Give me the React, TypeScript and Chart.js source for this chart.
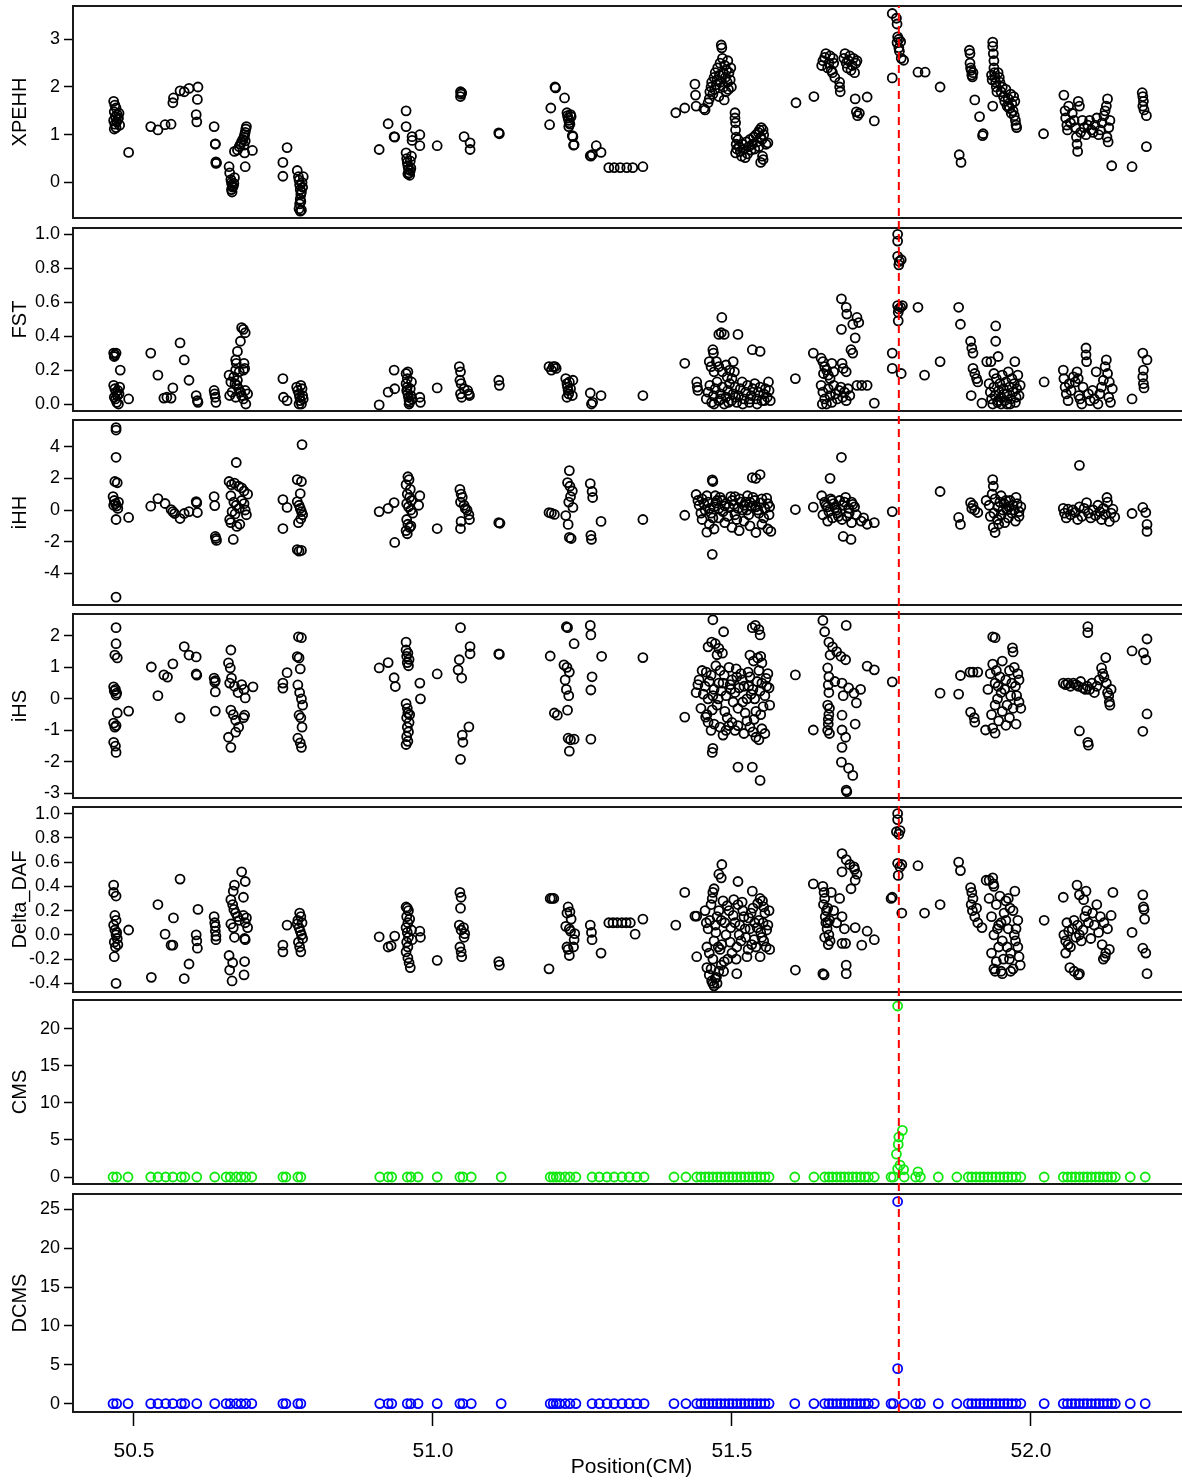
import React, { useEffect, useRef } from 'react';
import { Chart, registerables } from 'chart.js';

Chart.register(...registerables);
Chart.defaults.font.family = "'Liberation Sans', Arial, sans-serif";

type Pt = [number, number];

// ---------------- shared axis data ----------------
const X_MIN = 50.398;
const X_MAX = 52.2659;
const xTickValues = [50.5, 51.0, 51.5, 52.0];
const markerPosition = 51.779;

// ---------------- tick labels ----------------
const xpehhTicks = [0, 1, 2, 3];
const fstTicks = [0, 0.2, 0.4, 0.6, 0.8, 1.0];
const ihhTicks = [-4, -2, 0, 2, 4];
const ihsTicks = [-3, -2, -1, 0, 1, 2];
const dafTicks = [-0.4, -0.2, 0, 0.2, 0.4, 0.6, 0.8, 1.0];
const cmsTicks = [0, 5, 10, 15, 20];
const dcmsTicks = [0, 5, 10, 15, 20, 25];

// ---------------- series ----------------
const xpehhPoints: Pt[] = [
  [50.466,1.70],[50.468,1.62],[50.470,1.56],[50.467,1.48],[50.472,1.42],[50.469,1.38],[50.474,1.35],[50.466,1.30],[50.471,1.27],[50.468,1.22],[50.476,1.20],[50.470,1.15],[50.467,1.12],[50.473,1.32],[50.475,1.45],
  [50.491,0.63],
  [50.528,1.17],[50.540,1.10],[50.552,1.21],[50.562,1.22],[50.565,1.67],[50.566,1.77],[50.577,1.92],[50.584,1.90],[50.592,1.97],[50.604,1.42],[50.605,1.27],[50.606,1.74],[50.607,2.0],
  [50.634,1.17],[50.636,0.81],[50.636,0.80],[50.637,0.43],[50.637,0.40],[50.638,0.41],
  [50.659,0.33],[50.660,0.20],[50.662,0.06],[50.663,0.0],[50.664,-0.05],[50.665,-0.1],[50.663,-0.15],[50.664,-0.2],[50.666,-0.08],[50.668,0.1],[50.667,-0.02],
  [50.668,0.65],[50.673,0.68],[50.676,0.75],[50.678,0.80],[50.680,0.85],[50.682,0.90],[50.684,0.95],[50.685,1.0],[50.686,1.05],[50.687,1.12],[50.688,1.17],[50.686,0.87],[50.684,0.78],[50.686,0.33],[50.685,0.62],[50.698,0.67],
  [50.749,0.42],[50.749,0.13],[50.756,0.73],
  [50.773,0.25],[50.775,0.12],[50.776,0.05],[50.777,-0.05],[50.778,-0.15],[50.779,-0.25],[50.778,-0.35],[50.777,-0.45],[50.776,-0.55],[50.778,-0.6],[50.780,-0.58],[50.781,0.0],[50.782,-0.1],[50.783,0.12],[50.780,-0.2],[50.779,-0.4],
  [50.910,0.69],[50.925,1.23],[50.935,0.96],[50.936,0.95],
  [50.955,1.50],[50.955,1.17],[50.955,0.62],[50.956,0.50],[50.957,0.42],[50.958,0.35],[50.959,0.28],[50.960,0.20],[50.961,0.15],[50.962,0.45],[50.963,0.30],[50.964,0.55],[50.958,0.18],[50.962,0.25],
  [50.965,0.96],[50.965,0.88],[50.978,1.0],[50.978,0.77],[51.007,0.77],
  [51.046,1.90],[51.047,1.85],[51.046,1.80],[51.048,1.88],[51.052,0.96],[51.062,0.83],[51.062,0.69],[51.110,1.04],[51.111,1.02],
  [51.195,1.21],[51.197,1.56],[51.204,2.0],[51.205,1.98],[51.220,1.77],
  [51.224,1.46],[51.225,1.40],[51.226,1.35],[51.227,1.30],[51.228,1.25],[51.229,1.22],[51.227,1.17],[51.230,1.42],[51.231,1.38],
  [51.233,0.98],[51.234,0.96],[51.236,0.79],[51.235,0.78],
  [51.263,0.56],[51.264,0.55],[51.266,0.58],[51.273,0.77],[51.281,0.63],
  [51.294,0.31],[51.303,0.31],[51.313,0.31],[51.324,0.31],[51.334,0.31],[51.351,0.33],
  [51.406,1.46],[51.421,1.56],[51.438,2.06],[51.439,1.83],[51.440,1.60],[51.455,1.52],[51.453,1.55],
  [51.460,1.67],[51.462,1.75],[51.463,1.9],[51.465,2.0],[51.466,2.1],[51.468,1.85],[51.470,2.2],[51.471,1.95],[51.472,2.3],[51.474,2.05],[51.475,2.15],[51.476,2.4],[51.478,1.8],[51.479,2.25],[51.480,2.5],[51.481,2.1],[51.482,2.88],[51.483,2.82],[51.484,2.6],[51.485,2.3],[51.486,2.0],[51.487,1.73],[51.488,2.45],[51.489,2.2],[51.490,1.9],[51.491,2.35],[51.492,2.1],[51.493,2.55],[51.494,1.95],[51.495,2.3],[51.497,2.15],[51.498,2.4],[51.499,2.0],
  [51.505,1.46],[51.505,1.35],[51.506,1.25],[51.506,1.1],[51.507,0.95],[51.507,0.8],[51.508,0.7],[51.506,0.62],[51.510,0.9],[51.512,0.75],[51.514,0.65],[51.516,0.55],[51.518,0.8],[51.520,0.7],[51.522,0.52],[51.524,0.85],[51.526,0.6],[51.528,0.75],[51.530,0.9],[51.532,0.68],[51.534,0.8],[51.536,0.95],[51.538,0.7],[51.540,1.0],[51.542,0.85],[51.544,1.05],[51.545,0.75],[51.546,1.1],[51.548,0.95],[51.549,1.15],[51.550,0.9],[51.552,1.1],[51.553,1.0],[51.560,0.83],[51.552,0.48],[51.548,0.42],[51.551,0.55],[51.557,0.8],
  [51.607,1.67],[51.637,1.80],
  [51.650,2.45],[51.652,2.55],[51.655,2.62],[51.657,2.7],[51.660,2.4],[51.662,2.5],[51.664,2.65],[51.666,2.35],[51.668,2.3],[51.670,2.5],[51.672,2.2],[51.669,2.6],
  [51.680,2.1],[51.680,2.0],[51.681,1.9],
  [51.687,2.6],[51.689,2.7],[51.691,2.5],[51.693,2.4],[51.695,2.55],[51.697,2.65],[51.699,2.35],[51.701,2.45],[51.703,2.6],[51.705,2.3],[51.707,2.5],[51.709,2.55],
  [51.706,1.75],[51.708,1.48],[51.710,1.40],[51.713,1.45],[51.726,1.79],[51.738,1.29],
  [51.768,3.54],[51.768,2.19],[51.775,3.44],[51.776,3.32],[51.777,3.05],[51.776,2.93],[51.779,2.82],[51.780,2.75],[51.782,2.95],[51.783,2.6],[51.787,2.56],[51.779,3.0],
  [51.811,2.31],[51.823,2.31],[51.848,2.0],
  [51.880,0.58],[51.883,0.42],
  [51.897,2.77],[51.898,2.7],[51.898,2.5],[51.900,2.35],[51.901,2.25],[51.902,2.21],[51.899,2.4],[51.903,2.3],
  [51.906,1.73],[51.914,1.38],[51.920,1.02],[51.919,0.98],
  [51.936,2.94],[51.936,2.85],[51.937,2.7],[51.938,2.55],[51.938,2.4],[51.939,2.3],[51.940,2.2],[51.941,2.1],[51.942,2.0],[51.943,1.9],[51.936,1.6],[51.934,2.25],[51.935,2.15],[51.945,2.3],[51.947,2.2],
  [51.948,2.1],[51.950,1.9],[51.952,2.0],[51.954,1.8],[51.956,1.7],[51.958,1.95],[51.960,1.6],[51.962,1.75],[51.964,1.55],[51.966,1.85],[51.968,1.65],[51.970,1.5],[51.972,1.4],[51.974,1.3],[51.975,1.2],[51.976,1.15],[51.973,1.7],[51.971,1.8],[51.967,1.45],[51.963,1.6],
  [52.021,1.02],
  [52.055,1.83],[52.057,1.5],[52.058,1.35],[52.060,1.2],[52.061,1.1],[52.063,1.6],[52.066,1.25],[52.069,1.45],[52.072,1.3],[52.074,1.15],[52.076,0.95],[52.077,0.8],[52.078,0.65],[52.079,1.7],[52.081,1.6],[52.083,1.05],[52.086,1.3],[52.089,1.15],[52.092,1.0],[52.095,1.2],[52.098,1.3],[52.101,1.1],[52.104,1.05],[52.107,1.2],[52.110,1.35],[52.113,1.0],[52.116,1.1],[52.119,1.25],[52.122,1.4],[52.124,1.5],[52.126,1.6],[52.128,1.75],[52.127,0.95],[52.129,0.85],[52.130,1.15],[52.132,1.3],[52.135,0.35],
  [52.169,0.33],
  [52.186,1.88],[52.187,1.8],[52.188,1.7],[52.187,1.6],[52.189,1.52],[52.193,1.4],[52.193,0.75],
];

const fstPoints: Pt[] = [
  [50.466,0.30],[50.468,0.29],[50.470,0.30],[50.467,0.28],
  [50.466,0.11],[50.468,0.09],[50.470,0.07],[50.472,0.05],[50.467,0.04],[50.469,0.03],[50.473,0.08],[50.475,0.06],[50.471,0.01],[50.476,0.10],
  [50.477,0.20],[50.474,0.0],[50.491,0.03],
  [50.528,0.30],[50.540,0.17],[50.550,0.035],[50.555,0.04],[50.562,0.035],[50.565,0.095],[50.577,0.36],[50.584,0.26],[50.592,0.14],[50.604,0.05],[50.606,0.02],[50.607,0.01],
  [50.634,0.08],[50.635,0.06],[50.636,0.04],[50.637,0.01],
  [50.680,0.45],[50.683,0.44],[50.686,0.42],[50.678,0.37],[50.673,0.31],[50.670,0.26],[50.671,0.24],[50.684,0.24],[50.685,0.21],[50.683,0.20],[50.659,0.17],[50.662,0.13],[50.667,0.16],[50.669,0.12],[50.672,0.11],[50.675,0.09],[50.678,0.07],[50.680,0.05],[50.683,0.03],[50.686,0.08],[50.690,0.06],[50.660,0.05],[50.664,0.07],[50.670,0.04],[50.687,0.0],[50.673,0.14],[50.676,0.19],[50.670,0.20],
  [50.749,0.15],[50.750,0.04],[50.756,0.02],
  [50.772,0.10],[50.774,0.08],[50.776,0.06],[50.777,0.04],[50.778,0.02],[50.780,0.0],[50.782,0.05],[50.781,0.09],[50.783,0.03],[50.779,0.11],[50.776,0.0],
  [50.910,-0.005],[50.925,0.07],[50.936,0.09],[50.935,0.20],
  [50.955,0.18],[50.958,0.19],[50.957,0.15],[50.955,0.12],[50.957,0.10],[50.956,0.08],[50.958,0.06],[50.959,0.04],[50.960,0.02],[50.961,0.01],[50.962,0.09],[50.963,0.05],[50.964,0.13],[50.965,0.03],[50.960,0.0],
  [50.978,0.04],[50.979,0.01],[51.007,0.095],
  [51.044,0.22],[51.046,0.19],[51.045,0.14],[51.047,0.12],[51.046,0.06],[51.048,0.04],[51.052,0.09],[51.058,0.08],[51.060,0.06],[51.061,0.05],
  [51.110,0.14],[51.111,0.11],
  [51.194,0.22],[51.198,0.20],[51.201,0.22],[51.204,0.22],[51.206,0.21],
  [51.222,0.15],[51.224,0.12],[51.225,0.10],[51.226,0.08],[51.227,0.06],[51.224,0.04],[51.228,0.13],[51.230,0.09],[51.233,0.05],[51.234,0.14],
  [51.263,0.065],[51.265,0.0],[51.267,0.01],[51.281,0.05],
  [51.351,0.05],
  [51.421,0.24],[51.441,0.13],[51.442,0.10],[51.443,0.08],
  [51.483,0.51],[51.478,0.41],[51.482,0.42],[51.487,0.41],[51.510,0.41],[51.468,0.32],[51.469,0.30],[51.534,0.32],[51.547,0.31],
  [51.462,0.25],[51.465,0.22],[51.470,0.19],[51.474,0.25],[51.478,0.22],[51.484,0.19],[51.490,0.23],[51.496,0.20],[51.502,0.25],[51.504,0.19],[51.500,0.15],[51.492,0.16],
  [51.457,0.03],[51.460,0.07],[51.463,0.11],[51.466,0.01],[51.469,0.05],[51.472,0.09],[51.475,0.13],[51.478,0.02],[51.481,0.06],[51.484,0.10],[51.487,0.0],[51.490,0.04],[51.493,0.08],[51.496,0.12],[51.499,0.02],[51.502,0.06],[51.505,0.10],[51.508,0.01],[51.511,0.05],[51.514,0.09],[51.517,0.13],[51.520,0.03],[51.523,0.07],[51.526,0.11],[51.529,0.01],[51.532,0.05],[51.535,0.09],[51.538,0.12],[51.541,0.03],[51.544,0.07],[51.547,0.10],[51.550,0.02],[51.553,0.06],[51.556,0.09],[51.559,0.04],[51.562,0.08],[51.564,0.02],[51.561,0.13],
  [51.470,0.0],[51.482,0.03],[51.494,0.01],[51.506,0.04],[51.518,0.0],[51.530,0.03],[51.542,0.0],[51.554,0.02],
  [51.606,0.15],[51.636,0.30],
  [51.649,0.27],[51.652,0.25],[51.655,0.22],[51.658,0.20],[51.661,0.17],[51.664,0.15],[51.667,0.24],[51.670,0.19],[51.653,0.18],
  [51.649,0.11],[51.652,0.07],[51.655,0.03],[51.658,0.0],[51.661,0.09],[51.664,0.05],[51.667,0.01],[51.670,0.11],[51.673,0.06],[51.676,0.03],[51.679,0.08],[51.682,0.10],[51.685,0.04],[51.688,0.07],[51.691,0.02],[51.694,0.09],[51.697,0.05],[51.651,0.0],
  [51.683,0.62],[51.691,0.57],[51.692,0.53],[51.709,0.51],[51.712,0.48],[51.702,0.47],[51.683,0.44],[51.706,0.39],[51.699,0.32],[51.702,0.30],[51.684,0.24],[51.686,0.21],[51.691,0.19],[51.709,0.11],[51.717,0.11],[51.726,0.11],[51.738,0.005],
  [51.768,0.30],[51.768,0.21],
  [51.777,1.0],[51.777,0.96],[51.777,0.87],[51.780,0.84],[51.783,0.85],[51.779,0.82],
  [51.777,0.58],[51.779,0.56],[51.782,0.57],[51.785,0.58],[51.778,0.54],[51.778,0.49],[51.783,0.18],
  [51.811,0.57],[51.822,0.17],[51.848,0.25],
  [51.879,0.57],[51.882,0.47],
  [51.899,0.37],[51.901,0.33],[51.903,0.30],[51.900,0.05],[51.903,0.21],[51.906,0.18],[51.909,0.15],[51.911,0.13],[51.918,0.005],
  [51.926,0.25],[51.933,0.25],[51.941,0.46],[51.941,0.37],[51.945,0.28],[51.973,0.25],
  [51.930,0.12],[51.932,0.07],[51.934,0.03],[51.936,0.0],[51.938,0.10],[51.940,0.05],[51.942,0.15],[51.944,0.01],[51.946,0.08],[51.948,0.12],[51.950,0.04],[51.952,0.17],[51.954,0.09],[51.956,0.02],[51.958,0.13],[51.960,0.06],[51.962,0.19],[51.964,0.10],[51.966,0.03],[51.968,0.15],[51.970,0.07],[51.972,0.12],[51.974,0.01],[51.976,0.09],[51.978,0.17],[51.980,0.05],[51.982,0.11],[51.938,0.18],[51.950,0.0],[51.960,0.0],
  [51.945,0.02],[51.955,0.06],[51.965,0.0],[51.975,0.04],
  [52.022,0.13],
  [52.054,0.20],[52.055,0.15],[52.057,0.10],[52.059,0.06],[52.062,0.02],[52.064,0.12],[52.067,0.08],[52.071,0.16],[52.074,0.13],[52.077,0.19],[52.079,0.15],[52.080,0.05],[52.082,0.03],[52.085,0.0],[52.087,0.10],[52.092,0.33],[52.092,0.29],[52.093,0.25],[52.096,0.06],[52.099,0.02],[52.103,0.08],[52.106,0.03],[52.109,0.19],[52.112,0.00],[52.115,0.06],[52.118,0.10],[52.121,0.14],[52.124,0.22],[52.126,0.26],[52.128,0.18],[52.130,0.04],[52.133,0.01],[52.136,0.09],[52.131,0.13],
  [52.169,0.03],
  [52.187,0.30],[52.188,0.20],[52.187,0.16],[52.188,0.12],[52.189,0.095],[52.194,0.26],
];

const ihhPoints: Pt[] = [
  [50.470,5.2],[50.470,5.05],[50.470,3.33],[50.468,1.8],[50.472,1.72],[50.465,0.85],[50.467,0.6],[50.469,0.4],[50.471,0.25],[50.473,0.1],[50.466,0.3],[50.474,0.5],[50.470,-0.6],[50.491,-0.47],[50.470,-5.5],
  [50.528,0.24],[50.540,0.72],[50.552,0.41],[50.562,0.03],[50.565,-0.1],[50.568,-0.22],[50.577,-0.54],[50.584,-0.22],[50.592,-0.1],[50.604,0.53],[50.605,0.45],[50.606,-0.16],
  [50.634,0.85],[50.635,0.28],[50.636,-1.67],[50.637,-1.8],[50.638,-1.92],
  [50.671,3.0],[50.659,1.8],[50.663,1.6],[50.668,1.7],[50.675,1.5],[50.680,1.4],[50.684,1.2],[50.690,1.0],[50.662,0.9],[50.667,0.5],[50.671,0.3],[50.676,0.1],[50.680,0.6],[50.684,0.4],[50.686,0.0],[50.688,-0.3],[50.664,-0.1],[50.669,-0.25],[50.660,-0.6],[50.662,-0.8],[50.672,-1.04],[50.677,-0.9],[50.666,-1.86],
  [50.749,0.66],[50.749,-1.17],[50.756,0.16],
  [50.781,4.13],[50.773,1.92],[50.780,1.8],[50.778,1.04],[50.773,0.53],[50.776,0.3],[50.778,0.1],[50.780,-0.1],[50.782,-0.3],[50.779,-0.55],[50.775,-0.8],[50.773,-2.5],[50.776,-2.6],[50.780,-2.55],
  [50.910,-0.1],[50.925,0.1],[50.935,0.47],[50.936,-2.05],
  [50.958,2.1],[50.960,1.92],[50.955,1.6],[50.962,1.3],[50.957,1.0],[50.961,0.8],[50.964,0.6],[50.956,0.4],[50.959,0.2],[50.963,0.0],[50.966,-0.2],[50.956,-0.6],[50.958,-0.9],[50.961,-1.1],[50.955,-1.3],[50.957,-1.5],[50.963,-1.0],[50.978,0.9],[50.976,0.3],
  [51.007,-1.17],
  [51.045,1.3],[51.047,1.0],[51.049,0.8],[51.046,0.5],[51.052,0.3],[51.054,0.1],[51.057,0.0],[51.060,-0.3],[51.061,-0.6],[51.047,-0.72],[51.046,-1.17],
  [51.110,-0.8],[51.112,-0.84],
  [51.194,-0.16],[51.198,-0.2],[51.203,-0.28],
  [51.228,2.49],[51.225,1.73],[51.229,1.5],[51.233,1.2],[51.230,0.85],[51.227,0.5],[51.234,0.16],[51.222,-0.35],[51.226,-0.91],[51.228,-1.73],[51.231,-1.8],
  [51.263,1.67],[51.266,1.17],[51.267,0.79],[51.264,-1.6],[51.265,-1.86],[51.281,-0.72],
  [51.351,-0.6],[51.421,-0.33],
  [51.467,1.9],[51.468,1.8],[51.534,2.05],[51.540,2.0],[51.547,2.24],[51.467,-2.8],
  [51.440,0.98],[51.450,0.7],[51.460,0.5],[51.470,0.2],[51.480,0.8],[51.490,0.4],[51.500,0.6],[51.510,0.1],[51.520,0.3],[51.530,0.5],[51.540,0.2],[51.550,0.7],[51.560,0.4],[51.445,0.3],[51.455,0.0],[51.465,-0.2],[51.475,0.6],[51.485,-0.1],[51.495,0.2],[51.505,-0.3],[51.515,0.5],[51.525,0.0],[51.535,0.8],[51.545,-0.2],[51.555,0.1],[51.562,-0.3],[51.450,-0.6],[51.462,-0.9],[51.470,-1.2],[51.478,-0.5],[51.488,-0.8],[51.500,-1.1],[51.512,-1.3],[51.520,-0.7],[51.530,-1.0],[51.540,-1.42],[51.550,-0.9],[51.560,-1.2],[51.565,-1.35],[51.458,-1.4],[51.472,0.9],[51.505,0.85],[51.526,0.9],
  [51.443,0.6],[51.448,-0.2],[51.453,0.4],[51.458,0.9],[51.463,0.1],[51.468,-0.5],[51.473,0.45],[51.478,0.1],[51.483,0.6],[51.488,0.25],[51.493,-0.4],[51.498,0.85],[51.503,0.35],[51.508,-0.6],[51.513,0.7],[51.518,0.0],[51.523,0.5],[51.528,-0.3],[51.533,0.25],[51.538,0.6],[51.543,0.0],[51.548,0.45],[51.553,-0.5],[51.558,0.75],[51.563,0.2],
  [51.606,0.03],[51.636,0.18],
  [51.683,3.33],[51.664,2.0],[51.650,0.9],[51.655,0.5],[51.660,0.2],[51.665,0.7],[51.670,0.4],[51.675,0.0],[51.680,0.6],[51.685,0.3],[51.690,0.8],[51.695,0.1],[51.700,0.5],[51.705,0.2],[51.652,-0.3],[51.660,-0.7],[51.668,-0.5],[51.676,-0.2],[51.684,-0.6],[51.692,-0.4],[51.700,-0.8],[51.708,-0.3],[51.716,-0.7],[51.726,-0.9],[51.738,-0.8],[51.686,-1.67],[51.699,-1.86],[51.720,-0.5],
  [51.657,0.3],[51.662,-0.1],[51.667,0.6],[51.672,0.15],[51.678,-0.4],[51.688,0.5],[51.696,-0.2],[51.702,0.35],
  [51.768,-0.1],
  [51.848,1.17],[51.879,-0.47],[51.882,-0.91],
  [51.899,0.47],[51.903,0.3],[51.906,0.0],[51.911,-0.16],[51.901,0.1],
  [51.936,1.92],[51.937,1.5],[51.925,0.6],[51.930,0.3],[51.935,1.0],[51.940,0.7],[51.945,0.2],[51.950,0.9],[51.955,0.4],[51.960,0.0],[51.965,0.6],[51.970,0.3],[51.975,0.8],[51.980,-0.1],[51.932,-0.4],[51.938,-0.2],[51.944,-0.6],[51.950,-0.3],[51.956,-0.8],[51.962,-0.5],[51.968,-0.2],[51.974,-0.7],[51.980,-0.4],[51.983,0.2],[51.937,-1.1],[51.940,-1.42],[51.946,-0.9],
  [51.948,0.5],[51.953,0.0],[51.958,0.6],[51.963,0.2],[51.972,0.0],[51.977,0.4],
  [52.081,2.82],
  [52.054,0.1],[52.056,-0.2],[52.059,-0.5],[52.062,0.05],[52.066,-0.3],[52.070,0.0],[52.074,-0.15],[52.078,-0.6],[52.081,0.2],[52.085,-0.4],[52.089,0.1],[52.093,0.47],[52.096,-0.2],[52.100,-0.5],[52.104,0.0],[52.108,-0.35],[52.112,0.3],[52.115,-0.1],[52.118,-0.6],[52.121,0.1],[52.124,-0.3],[52.127,0.79],[52.128,0.5],[52.131,-0.72],[52.134,-0.2],[52.137,0.05],[52.140,-0.45],
  [52.169,-0.22],[52.187,0.16],[52.192,-0.16],[52.194,-0.91],[52.194,-1.35],
];

const ihsPoints: Pt[] = [
  [50.470,2.26],[50.470,1.75],[50.468,1.39],[50.472,1.30],[50.466,0.38],[50.469,0.30],[50.467,0.25],[50.471,0.18],[50.470,0.12],[50.472,-0.45],[50.466,-0.77],[50.470,-0.85],[50.468,-0.9],[50.466,-1.38],[50.469,-1.5],[50.470,-1.7],[50.491,-0.39],
  [50.529,1.01],[50.540,0.1],[50.550,0.76],[50.556,0.69],[50.565,1.11],[50.577,-0.6],[50.584,1.66],[50.592,1.39],[50.604,1.33],[50.604,0.79],[50.605,0.75],
  [50.634,0.66],[50.635,0.53],[50.636,0.58],[50.636,0.22],[50.636,-0.39],
  [50.662,1.55],[50.658,1.14],[50.661,0.98],[50.663,0.66],[50.660,0.5],[50.668,0.4],[50.674,0.2],[50.680,0.45],[50.684,0.3],[50.686,0.03],[50.662,-0.36],[50.666,-0.5],[50.670,-0.68],[50.685,-0.52],[50.683,-0.6],[50.675,-0.9],[50.658,-1.22],[50.662,-1.54],[50.670,-1.06],[50.699,0.38],
  [50.749,0.5],[50.749,0.34],[50.756,0.83],
  [50.775,1.97],[50.780,1.94],[50.773,1.34],[50.776,1.30],[50.778,0.95],[50.774,0.44],[50.777,0.2],[50.780,0.0],[50.782,-0.2],[50.776,-0.52],[50.779,-0.6],[50.781,-0.9],[50.774,-1.25],[50.778,-1.4],[50.780,-1.54],
  [50.910,0.98],[50.925,1.15],[50.935,0.67],[50.937,0.39],
  [50.955,1.8],[50.955,1.55],[50.958,1.45],[50.956,1.35],[50.960,1.25],[50.957,1.15],[50.959,1.05],[50.978,0.5],[50.979,0.0],[50.955,-0.15],[50.957,-0.3],[50.958,-0.45],[50.956,-0.6],[50.960,-0.75],[50.957,-0.9],[50.959,-1.05],[50.956,-1.2],[50.958,-1.35],[50.961,-0.5],[50.955,-1.45],
  [51.007,0.79],
  [51.046,2.26],[51.062,1.66],[51.062,1.43],[51.044,1.24],[51.042,0.92],[51.048,0.66],[51.060,-0.89],[51.049,-1.15],[51.050,-1.38],[51.046,-1.92],
  [51.110,1.43],[51.111,1.41],
  [51.196,1.36],[51.223,2.29],[51.225,2.26],[51.236,1.75],[51.219,1.08],[51.224,1.0],[51.228,0.85],[51.221,0.6],[51.223,0.3],[51.227,0.1],[51.203,-0.45],[51.208,-0.52],[51.225,-0.36],[51.226,-1.25],[51.230,-1.3],[51.236,-1.28],[51.228,-1.66],[51.263,2.33],[51.264,2.03],[51.266,0.7],[51.264,0.28],[51.264,-1.28],[51.282,1.35],
  [51.351,1.31],[51.421,-0.58],
  [51.468,2.51],[51.486,2.13],[51.534,2.26],[51.539,2.33],[51.545,2.2],[51.547,2.03],
  [51.460,1.65],[51.466,1.8],[51.472,1.75],[51.478,1.6],[51.484,1.45],[51.475,1.4],[51.530,1.39],[51.536,1.2],[51.543,1.3],[51.550,1.14],[51.548,1.35],
  [51.440,0.2],[51.445,0.6],[51.450,0.9],[51.455,0.4],[51.460,0.0],[51.465,0.75],[51.470,0.3],[51.475,-0.2],[51.480,0.9],[51.485,0.5],[51.490,0.1],[51.495,1.0],[51.500,0.6],[51.505,0.2],[51.510,-0.3],[51.515,0.8],[51.520,0.4],[51.525,0.0],[51.530,0.7],[51.535,0.3],[51.540,-0.4],[51.545,0.9],[51.550,0.5],[51.555,0.1],[51.560,0.8],[51.563,-0.2],[51.448,-0.3],[51.458,-0.5],[51.468,0.1],[51.478,0.5],[51.488,-0.4],[51.498,0.3],[51.508,0.7],[51.518,-0.1],[51.528,0.4],[51.538,0.0],[51.548,-0.5],[51.558,0.4],
  [51.460,-0.74],[51.470,-0.8],[51.480,-0.9],[51.490,-1.0],[51.500,-0.75],[51.510,-0.85],[51.520,-1.1],[51.530,-0.9],[51.540,-1.22],[51.550,-0.95],[51.555,-1.1],[51.545,-1.3],
  [51.443,0.45],[51.452,0.15],[51.457,0.85],[51.462,0.55],[51.467,-0.35],[51.473,1.05],[51.477,0.0],[51.482,0.25],[51.487,0.75],[51.492,-0.6],[51.497,0.45],[51.502,-0.1],[51.507,0.95],[51.512,0.35],[51.517,0.6],[51.522,-0.45],[51.527,0.85],[51.532,0.15],[51.537,-0.65],[51.542,0.55],[51.547,0.25],[51.552,-0.25],[51.557,0.65],[51.562,0.35],[51.465,-1.0],[51.485,-1.15],[51.505,-1.0],[51.525,-0.7],[51.535,-1.05],[51.495,-0.85],
  [51.468,-1.57],[51.467,-1.7],[51.510,-2.17],[51.534,-2.17],[51.547,-2.59],[51.456,-0.58],
  [51.606,0.76],[51.636,-0.99],
  [51.652,2.49],[51.691,2.33],[51.655,2.13],[51.662,1.8],[51.668,1.65],[51.675,1.5],[51.682,1.35],[51.690,1.24],[51.664,1.39],[51.726,1.04],[51.738,0.92],[51.660,0.98],[51.662,0.7],[51.661,0.44],[51.684,0.5],[51.695,0.35],[51.704,0.18],[51.715,0.3],[51.708,-0.13],[51.660,-0.2],[51.662,-0.5],[51.661,-0.8],[51.660,-1.0],[51.663,-1.1],[51.684,-0.52],[51.706,-0.8],[51.684,-0.99],[51.690,-1.22],[51.684,-1.54],[51.683,-2.01],[51.695,-2.2],[51.702,-2.43],[51.691,-2.9],[51.692,-2.95],
  [51.662,0.2],[51.663,-0.3],[51.661,-0.65],[51.686,0.1],[51.672,0.55],
  [51.768,0.54],
  [51.848,0.18],[51.879,0.15],[51.882,0.74],
  [51.898,0.85],[51.903,0.85],[51.911,0.85],[51.899,-0.42],[51.905,-0.6],[51.906,-0.74],[51.924,-0.99],
  [51.936,1.97],[51.940,1.94],[51.969,1.62],[51.970,1.49],
  [51.928,0.3],[51.932,0.8],[51.936,1.1],[51.940,0.5],[51.944,0.0],[51.948,0.7],[51.952,1.2],[51.956,0.3],[51.960,-0.2],[51.964,0.9],[51.968,0.5],[51.972,1.0],[51.976,0.1],[51.980,0.6],[51.983,-0.3],[51.934,-0.5],[51.940,-0.2],[51.946,-0.7],[51.952,-0.4],[51.958,-0.84],[51.964,-0.6],[51.970,-0.3],[51.975,-0.8],[51.980,-0.1],[51.936,-0.93],[51.940,-1.09],[51.945,0.4],
  [51.942,0.9],[51.950,0.2],[51.958,0.6],[51.966,0.1],[51.974,0.4],[51.978,0.8],
  [52.054,0.5],[52.058,0.45],[52.062,0.5],[52.066,0.4],[52.071,0.5],[52.075,0.45],[52.079,0.4],[52.083,0.55],[52.087,0.35],[52.091,0.3],[52.095,2.29],[52.095,2.1],[52.094,0.4],[52.098,0.3],[52.102,0.5],[52.106,0.2],[52.110,0.4],[52.114,0.6],[52.118,0.98],[52.120,0.8],[52.122,0.69],[52.125,1.31],[52.126,0.5],[52.128,0.2],[52.130,0.1],[52.131,-0.1],[52.132,-0.2],[52.134,0.3],[52.081,-1.02],[52.095,-1.38],[52.096,-1.47],
  [52.169,1.52],[52.194,1.9],[52.188,1.46],[52.192,1.24],[52.194,-0.48],[52.187,-1.03],
];

const dafPoints: Pt[] = [
  [50.466,0.41],[50.466,0.35],[50.470,0.32],[50.468,0.16],[50.470,0.12],[50.466,0.08],[50.468,0.04],[50.470,0.0],[50.472,-0.03],[50.467,-0.06],[50.469,-0.1],[50.471,0.02],[50.473,-0.08],[50.467,-0.18],[50.470,-0.4],[50.491,0.04],
  [50.529,-0.35],[50.540,0.25],[50.552,0.006],[50.562,-0.085],[50.565,-0.085],[50.566,0.14],[50.577,0.46],[50.584,-0.36],[50.592,-0.24],[50.604,0.0],[50.605,-0.05],[50.606,-0.11],[50.607,0.21],
  [50.634,0.15],[50.635,0.10],[50.636,0.07],[50.636,0.03],[50.637,-0.01],[50.637,-0.04],
  [50.680,0.52],[50.686,0.44],[50.668,0.41],[50.666,0.36],[50.683,0.31],[50.662,0.29],[50.665,0.25],[50.667,0.21],[50.670,0.18],[50.673,0.15],[50.676,0.12],[50.662,0.09],[50.666,0.06],[50.683,0.16],[50.688,0.14],[50.690,0.06],[50.686,0.1],[50.668,-0.02],[50.685,-0.03],[50.686,-0.04],[50.659,-0.17],[50.665,-0.23],[50.660,-0.29],[50.664,-0.38],[50.685,-0.22],[50.684,-0.33],
  [50.749,-0.085],[50.749,-0.14],[50.756,0.08],
  [50.777,0.18],[50.779,0.15],[50.774,0.12],[50.781,0.1],[50.776,0.06],[50.778,0.03],[50.780,0.0],[50.782,-0.03],[50.775,-0.06],[50.777,-0.1],[50.779,-0.14],[50.773,0.09],
  [50.910,-0.016],[50.925,-0.1],[50.930,-0.09],[50.936,-0.01],
  [50.955,0.23],[50.957,0.22],[50.959,0.2],[50.956,0.15],[50.958,0.1],[50.955,0.06],[50.957,0.02],[50.959,-0.02],[50.956,-0.06],[50.958,-0.1],[50.955,-0.14],[50.958,-0.19],[50.960,-0.23],[50.962,-0.27],[50.964,0.04],[50.965,-0.04],[50.961,0.13],
  [50.978,0.03],[50.979,-0.02],[51.007,-0.21],
  [51.045,0.35],[51.047,0.31],[51.046,0.22],[51.044,0.08],[51.047,0.04],[51.051,0.06],[51.052,-0.02],[51.053,0.01],[51.045,-0.1],[51.047,-0.14],[51.048,-0.18],
  [51.110,-0.22],[51.111,-0.25],
  [51.196,0.30],[51.199,0.30],[51.202,0.30],[51.194,-0.28],
  [51.226,0.23],[51.224,0.18],[51.229,0.19],[51.231,0.13],[51.222,0.07],[51.230,0.03],[51.228,0.05],[51.224,-0.1],[51.226,-0.12],[51.228,-0.17],[51.235,-0.1],[51.236,-0.04],[51.237,0.01],
  [51.263,0.08],[51.265,0.02],[51.266,-0.04],[51.281,-0.15],
  [51.294,0.1],[51.301,0.1],[51.308,0.1],[51.316,0.1],[51.323,0.1],[51.330,0.1],[51.338,0.006],[51.351,0.13],
  [51.406,0.08],[51.421,0.35],[51.438,0.155],[51.441,0.155],[51.441,-0.18],
  [51.483,0.58],[51.478,0.5],[51.482,0.47],[51.470,0.38],[51.468,0.35],[51.510,0.44],[51.534,0.36],[51.547,0.3],[51.553,0.23],[51.551,0.28],
  [51.455,0.2],[51.460,0.05],[51.465,0.25],[51.470,-0.05],[51.475,0.15],[51.480,-0.12],[51.485,0.28],[51.490,0.0],[51.495,0.2],[51.500,-0.15],[51.505,0.1],[51.510,0.25],[51.515,-0.05],[51.520,0.15],[51.525,-0.18],[51.530,0.05],[51.535,0.22],[51.540,-0.1],[51.545,0.12],[51.550,-0.02],[51.555,0.18],[51.560,0.08],[51.563,-0.12],[51.458,-0.1],[51.463,0.12],[51.468,-0.2],[51.473,0.02],[51.478,0.2],[51.483,-0.08],[51.488,0.1],[51.493,-0.2],[51.498,0.06],[51.503,0.29],[51.508,-0.1],[51.513,0.08],[51.518,0.2],[51.523,-0.02],[51.528,0.14],[51.533,-0.08],[51.538,0.1],[51.543,0.26],[51.548,0.02],[51.553,-0.05],[51.558,0.04],
  [51.457,0.1],[51.462,-0.15],[51.467,0.3],[51.472,0.08],[51.477,-0.1],[51.482,0.12],[51.487,-0.22],[51.492,0.24],[51.497,-0.06],[51.502,0.16],[51.507,-0.2],[51.512,0.0],[51.517,0.27],[51.522,0.05],[51.527,-0.12],[51.532,0.18],[51.537,-0.04],[51.542,0.06],[51.547,-0.18],[51.552,0.1],[51.557,-0.1],[51.562,0.2],[51.465,-0.28],[51.472,-0.36],[51.468,-0.4],
  [51.458,-0.27],[51.462,-0.33],[51.466,-0.38],[51.470,-0.42],[51.474,-0.35],[51.478,-0.3],[51.482,-0.25],[51.486,-0.3],[51.475,-0.4],[51.508,-0.32],
  [51.606,-0.29],[51.636,0.42],[51.652,-0.32],[51.654,-0.33],
  [51.684,0.67],[51.691,0.62],[51.697,0.58],[51.704,0.56],[51.709,0.5],[51.684,0.52],[51.706,0.45],[51.699,0.38],[51.705,0.54],
  [51.652,0.4],[51.655,0.3],[51.658,0.2],[51.660,0.1],[51.662,0.0],[51.664,-0.05],[51.653,0.25],[51.656,0.15],[51.659,0.05],[51.661,-0.08],[51.666,0.35],[51.670,0.2],[51.675,0.1],[51.680,0.3],[51.684,0.15],[51.688,0.05],[51.684,-0.07],[51.690,-0.07],[51.706,0.06],[51.726,0.03],[51.717,-0.085],[51.738,-0.04],[51.691,-0.25],[51.691,-0.32],
  [51.654,0.35],[51.657,0.1],[51.660,0.22],[51.663,0.12],[51.655,-0.02],
  [51.768,0.31],[51.766,0.3],
  [51.777,1.0],[51.777,0.95],[51.775,0.85],[51.779,0.83],[51.781,0.86],[51.777,0.59],[51.781,0.56],[51.784,0.58],[51.778,0.49],[51.784,0.18],
  [51.811,0.57],[51.822,0.18],[51.848,0.25],
  [51.879,0.6],[51.882,0.53],
  [51.899,0.39],[51.901,0.35],[51.903,0.3],[51.900,0.25],[51.902,0.2],[51.906,0.15],[51.911,0.1],[51.918,0.06],[51.909,0.22],
  [51.925,0.45],[51.930,0.45],[51.936,0.47],[51.938,0.4],[51.937,0.42],[51.973,0.36],
  [51.930,0.3],[51.934,0.15],[51.938,0.0],[51.942,0.25],[51.946,-0.1],[51.950,0.1],[51.954,-0.2],[51.958,0.28],[51.962,0.05],[51.966,-0.15],[51.970,0.2],[51.974,-0.05],[51.978,0.12],[51.982,-0.25],[51.934,-0.15],[51.938,-0.28],[51.942,-0.22],[51.946,0.08],[51.950,-0.3],[51.955,0.18],[51.960,-0.1],[51.965,0.22],[51.970,-0.28],[51.975,0.05],[51.980,-0.18],[51.948,0.32],[51.962,0.3],[51.940,-0.3],[51.952,-0.32],[51.966,-0.3],
  [51.944,0.05],[51.952,-0.05],[51.958,0.12],[51.964,-0.2],[51.972,0.0],[51.978,-0.1],
  [52.022,0.12],
  [52.054,0.31],[52.077,0.41],[52.081,0.33],[52.088,0.29],[52.092,0.36],[52.137,0.35],
  [52.055,0.0],[52.058,-0.05],[52.060,0.1],[52.063,0.03],[52.066,-0.1],[52.069,0.05],[52.072,0.12],[52.075,-0.02],[52.078,0.08],[52.081,0.0],[52.084,-0.05],[52.087,0.04],[52.090,0.15],[52.093,0.2],[52.096,0.1],[52.100,-0.03],[52.103,0.18],[52.106,0.08],[52.110,0.25],[52.113,0.02],[52.116,0.15],[52.119,-0.08],[52.122,0.1],[52.125,-0.15],[52.128,0.05],[52.131,-0.12],[52.134,0.16],[52.058,-0.15],[52.062,-0.08],[52.065,-0.27],[52.072,-0.3],[52.079,-0.33],[52.081,-0.32],[52.121,-0.2],[52.124,-0.18],
  [52.169,0.02],[52.187,0.33],[52.188,0.23],[52.189,0.21],[52.190,0.13],[52.187,-0.11],[52.192,-0.15],[52.194,-0.32],
];

// SNP positions whose CMS / DCMS score reads as 0
const baselinePositions: number[] = [
  50.465,50.471,50.490,
  50.528,50.540,50.553,50.565,50.579,50.585,50.605,
  50.635,50.654,50.661,50.671,50.679,50.687,50.697,
  50.749,50.754,50.774,50.779,
  50.911,50.925,50.931,50.957,50.963,50.975,51.007,
  51.045,51.050,51.064,51.114,
  51.196,51.201,51.206,51.212,51.221,51.229,51.239,
  51.266,51.278,51.291,51.303,51.316,51.328,51.341,51.353,
  51.403,51.423,
  51.441,51.448,51.455,51.461,51.468,51.475,51.481,51.488,51.495,51.501,51.508,51.515,51.521,51.528,51.535,51.541,51.548,51.555,51.562,
  51.605,51.637,
  51.655,51.662,51.668,51.675,51.682,51.688,51.695,51.702,51.708,51.715,51.722,51.728,51.738,
  51.766,51.770,51.788,51.807,51.815,51.845,
  51.876,51.895,51.901,51.908,51.915,51.921,51.928,51.935,51.941,51.948,51.955,51.961,51.968,51.975,51.983,
  52.022,
  52.054,52.061,52.068,52.074,52.081,52.088,52.094,52.101,52.108,52.114,52.121,52.128,52.135,52.141,
  52.166,52.191,
];
const cmsPeaks: Pt[] = [
  [51.777,23.1],[51.785,6.3],[51.779,5.4],[51.778,4.4],[51.775,3.1],[51.781,1.6],[51.787,1.0],[51.777,1.1],[51.811,0.7],
];
const dcmsPeaks: Pt[] = [
  [51.777,26.0],[51.777,4.5],
];

// ---------------- layout ----------------
const CANVAS_W = 1200;
const PAGE_H = 1481;
const PLOT_LEFT = 73;
const PLOT_RIGHT = 1190;
const PAD = 18;

interface PanelSpec {
  label: string;
  points: Pt[];
  color: string;
  top: number;
  bottom: number;
  yMin: number;
  yMax: number;
  ticks: number[];
  decimals: number;
}

const cmsPoints: Pt[] = baselinePositions.map((x) => [x, 0] as Pt).concat(cmsPeaks);
const dcmsPoints: Pt[] = baselinePositions.map((x) => [x, 0] as Pt).concat(dcmsPeaks);

const panels: PanelSpec[] = [
  { label: 'XPEHH', points: xpehhPoints, color: '#000000', top: 6, bottom: 218, yMin: -0.745, yMax: 3.697, ticks: xpehhTicks, decimals: 0 },
  { label: 'FST', points: fstPoints, color: '#000000', top: 228, bottom: 411, yMin: -0.041, yMax: 1.037, ticks: fstTicks, decimals: 1 },
  { label: 'iHH', points: ihhPoints, color: '#000000', top: 420, bottom: 605, yMin: -6.0, yMax: 5.685, ticks: ihhTicks, decimals: 0 },
  { label: 'iHS', points: ihsPoints, color: '#000000', top: 614, bottom: 798, yMin: -3.148, yMax: 2.693, ticks: ihsTicks, decimals: 0 },
  { label: 'Delta_DAF', points: dafPoints, color: '#000000', top: 807, bottom: 992, yMin: -0.471, yMax: 1.054, ticks: dafTicks, decimals: 1 },
  { label: 'CMS', points: cmsPoints, color: '#11E811', top: 1000, bottom: 1184, yMin: -0.944, yMax: 23.91, ticks: cmsTicks, decimals: 0 },
  { label: 'DCMS', points: dcmsPoints, color: '#0000FF', top: 1194, bottom: 1412, yMin: -1.08, yMax: 26.97, ticks: dcmsTicks, decimals: 0 },
];

function Panel({ spec, index }: { spec: PanelSpec; index: number }) {
  const ref = useRef<HTMLCanvasElement | null>(null);
  const isFirst = index === 0;
  const isLast = index === panels.length - 1;
  const canvasTop = spec.top - PAD;
  const canvasH = isLast ? PAGE_H - canvasTop : spec.bottom - spec.top + 2 * PAD;

  useEffect(() => {
    const canvas = ref.current;
    if (!canvas) return;

    const overlay = {
      id: 'overlay' + index,
      afterDatasetsDraw(chart: any) {
        const { ctx, chartArea: a, scales } = chart;
        ctx.save();
        ctx.strokeStyle = '#1a1a1a';
        ctx.lineWidth = 2;
        ctx.setLineDash([]);
        ctx.strokeRect(a.left, a.top, a.right - a.left, a.bottom - a.top);
        const x = scales.x.getPixelForValue(markerPosition);
        const y0 = isFirst ? a.top : a.top - 5;
        const y1 = isLast ? a.bottom : a.bottom + 5;
        ctx.strokeStyle = '#FF0000';
        ctx.lineWidth = 2;
        ctx.setLineDash([8, 5]);
        ctx.lineDashOffset = (canvasTop + y0) % 13;
        ctx.beginPath();
        ctx.moveTo(x, y0);
        ctx.lineTo(x, y1);
        ctx.stroke();
        ctx.restore();
      },
    };

    const xScale: any = {
      type: 'linear',
      min: X_MIN,
      max: X_MAX,
      display: isLast,
      afterBuildTicks: (s: any) => {
        s.ticks = xTickValues.map((v) => ({ value: v }));
      },
      grid: { drawOnChartArea: false, drawTicks: true, tickLength: 14, tickColor: '#000', tickWidth: 1.5 },
      border: { display: false },
      ticks: {
        font: { size: 21 },
        color: '#000',
        padding: 13,
        maxRotation: 0,
        autoSkip: false,
        callback: (v: any) => Number(v).toFixed(1),
      },
      title: {
        display: true,
        text: 'Position(CM)',
        font: { size: 21 },
        color: '#000',
        padding: { top: 0, bottom: 1 },
      },
    };
    if (isLast) {
      xScale.afterFit = (s: any) => {
        s.height = PAGE_H - spec.bottom;
      };
    }

    const chart = new Chart(canvas, {
      type: 'scatter',
      data: {
        datasets: [
          {
            data: spec.points.map(([x, y]) => ({ x, y })),
            pointRadius: 4.5,
            pointHoverRadius: 4.5,
            pointBorderWidth: 1.8,
            pointBorderColor: spec.color,
            pointBackgroundColor: 'rgba(0,0,0,0)',
            showLine: false,
            clip: false as any,
          },
        ],
      },
      options: {
        responsive: false,
        animation: false,
        devicePixelRatio: 1,
        events: [],
        layout: { padding: { top: PAD, bottom: isLast ? 0 : PAD, left: 0, right: CANVAS_W - PLOT_RIGHT } },
        plugins: { legend: { display: false }, tooltip: { enabled: false } },
        scales: {
          x: xScale,
          y: {
            type: 'linear',
            min: spec.yMin,
            max: spec.yMax,
            afterBuildTicks: (s: any) => {
              s.ticks = spec.ticks.map((v) => ({ value: v }));
            },
            afterFit: (s: any) => {
              s.width = PLOT_LEFT;
            },
            grid: { drawOnChartArea: false, drawTicks: true, tickLength: 9, tickColor: '#000', tickWidth: 1.5 },
            border: { display: false },
            ticks: {
              font: { size: 18 },
              color: '#000',
              padding: 4,
              autoSkip: false,
              callback: (v: any) => Number(v).toFixed(spec.decimals),
            },
            title: {
              display: true,
              text: spec.label,
              font: { size: 20 },
              color: '#000',
              padding: { top: 8, bottom: 0 },
            },
          },
        },
      } as any,
      plugins: [overlay],
    });
    return () => chart.destroy();
  }, []);

  return (
    <canvas
      ref={ref}
      width={CANVAS_W}
      height={canvasH}
      style={{ position: 'absolute', left: 0, top: canvasTop, width: CANVAS_W, height: canvasH }}
    />
  );
}

export default function App() {
  return (
    <div
      style={{
        position: 'absolute',
        left: 0,
        top: 0,
        width: 1182,
        height: PAGE_H,
        overflow: 'hidden',
        background: '#fff',
      }}
    >
      {panels.map((p, i) => (
        <Panel key={p.label} spec={p} index={i} />
      ))}
    </div>
  );
}
